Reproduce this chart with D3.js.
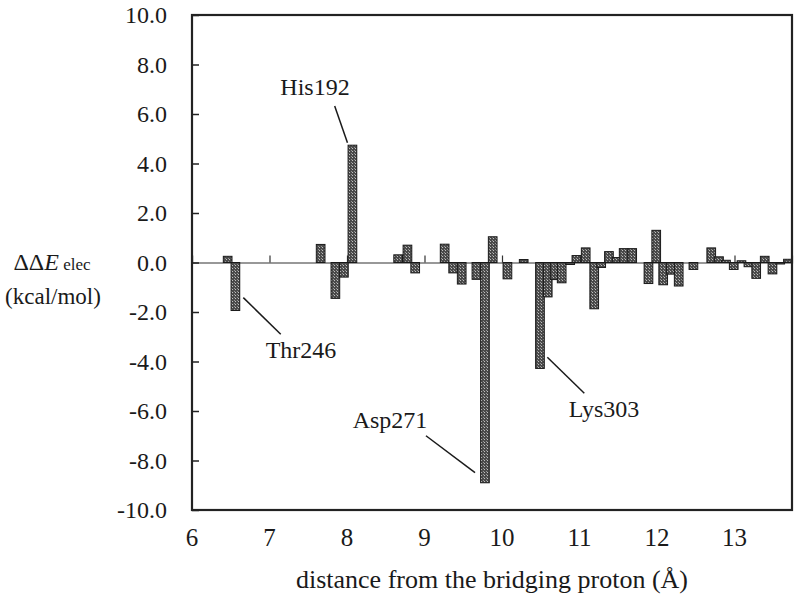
<!DOCTYPE html>
<html><head><meta charset="utf-8">
<script src="https://cdn.jsdelivr.net/npm/d3@7"></script>
<style>
body{margin:0;background:#fff}
#c text, #c tspan { font-family: "Liberation Serif", "Times New Roman", Tinos, FreeSerif !important; }
</style>
</head><body>
<svg id="c" width="800" height="600" style="display:block"></svg>
<script>
const distances = [6.46, 6.56, 7.66, 7.85, 7.96, 8.07, 8.66, 8.78, 8.88, 9.26, 9.37, 9.48, 9.67, 9.78, 9.88, 10.07, 10.28, 10.49, 10.59, 10.68, 10.77, 10.88, 10.96, 11.08, 11.19, 11.28, 11.38, 11.48, 11.57, 11.68, 11.89, 11.99, 12.08, 12.18, 12.28, 12.47, 12.70, 12.80, 12.89, 12.99, 13.09, 13.18, 13.28, 13.39, 13.49, 13.59, 13.69];
const values = [0.25, -1.94, 0.73, -1.45, -0.59, 4.74, 0.31, 0.70, -0.42, 0.74, -0.42, -0.87, -0.68, -8.90, 1.04, -0.66, 0.12, -4.28, -1.39, -0.69, -0.82, -0.08, 0.28, 0.59, -1.87, -0.20, 0.44, 0.20, 0.56, 0.56, -0.85, 1.30, -0.90, -0.47, -0.95, -0.28, 0.59, 0.23, 0.09, -0.28, 0.07, -0.17, -0.64, 0.25, -0.46, -0.06, 0.13];
const xTicks = [6, 7, 8, 9, 10, 11, 12, 13];
const yTicks = [-10, -8, -6, -4, -2, 0, 2, 4, 6, 8, 10];
const annLabels = ["His192", "Thr246", "Asp271", "Lys303"];
const annText = [[7.587, 6.77], [7.406, -3.86], [8.555, -6.67], [11.316, -6.24]];
const annLines = [[7.841, 6.32, 8.006, 4.84], [6.662, -1.42, 7.145, -2.90], [9.019, -7.00, 9.652, -8.49], [10.585, -3.83, 11.062, -5.28]];
const barWidth = 0.112;

const FONT = '"Liberation Serif", "Times New Roman", Tinos, FreeSerif';
const svg = d3.select("#c");
const L = 192, R = 792, T = 15, B = 510;
const x = d3.scaleLinear().domain([6, 13.742]).range([L, R]);
const y = d3.scaleLinear().domain([-10, 10]).range([B, T]);

const defs = svg.append("defs");
const p = defs.append("pattern").attr("id", "hatch").attr("patternUnits", "userSpaceOnUse").attr("width", 3).attr("height", 3);
p.append("rect").attr("width", 3).attr("height", 3).attr("fill", "#4a4a4a");
p.append("rect").attr("x", 1).attr("y", 1).attr("width", 1).attr("height", 1).attr("fill", "#c0c0c0");
p.append("rect").attr("x", 0).attr("y", 0).attr("width", 1).attr("height", 1).attr("fill", "#949494");

const xAxis = d3.axisTop(x).tickValues(xTicks).tickSize(7).tickFormat("");
const gx = svg.append("g").attr("transform", `translate(0,${y(0)})`).call(xAxis);
gx.select(".domain").attr("stroke", "#333").attr("stroke-width", 1.2);
gx.selectAll(".tick line").attr("stroke", "#333").attr("stroke-width", 1.2);
gx.selectAll(".tick text").remove();

const data = distances.map((d, i) => ({d, v: values[i]}));
svg.append("g").selectAll("rect").data(data).join("rect")
  .attr("x", d => x(d.d - barWidth / 2))
  .attr("width", x(6 + barWidth) - x(6))
  .attr("y", d => y(Math.max(0, d.v)))
  .attr("height", d => Math.abs(y(d.v) - y(0)))
  .attr("fill", "url(#hatch)")
  .attr("stroke", "#1a1a1a").attr("stroke-width", 1);

const yAxis = d3.axisRight(y).tickValues(yTicks).tickSize(7).tickFormat("");
const gy = svg.append("g").attr("transform", `translate(${L},0)`).call(yAxis);
gy.select(".domain").remove();
gy.selectAll(".tick line").attr("stroke", "#222").attr("stroke-width", 1.5);
gy.selectAll(".tick text").remove();

svg.append("rect").attr("x", x(6)).attr("y", y(10)).attr("width", x(13.742) - x(6)).attr("height", y(-10) - y(10))
  .attr("fill", "none").attr("stroke", "#222").attr("stroke-width", 2.2);

const txt = sel => sel.attr("font-family", FONT).style("font-family", FONT).attr("fill", "#1a1a1a");

svg.append("g").selectAll("text").data(yTicks).join("text").call(txt)
  .attr("x", 167).attr("y", d => y(d) + 8)
  .attr("text-anchor", "end").attr("font-size", 24)
  .text(d => d3.format(".1f")(d).replace("\u2212", "-"));

svg.append("g").selectAll("text").data(xTicks).join("text").call(txt)
  .attr("x", d => x(d)).attr("y", 546)
  .attr("text-anchor", "middle").attr("font-size", 25)
  .text(d => d);

svg.append("text").call(txt).attr("x", 492).attr("y", 588).attr("text-anchor", "middle").attr("font-size", 26)
  .text("distance from the bridging proton (Å)");
const yt = svg.append("text").call(txt).attr("x", 52).attr("y", 270).attr("text-anchor", "middle").attr("font-size", 24);
yt.append("tspan").text("ΔΔ");
yt.append("tspan").attr("font-style", "italic").text("E");
yt.append("tspan").attr("font-size", 17).text(" elec");
svg.append("text").call(txt).attr("x", 53).attr("y", 304).attr("text-anchor", "middle").attr("font-size", 23).text("(kcal/mol)");

svg.append("g").selectAll("line").data(annLines).join("line")
  .attr("x1", d => x(d[0])).attr("y1", d => y(d[1])).attr("x2", d => x(d[2])).attr("y2", d => y(d[3]))
  .attr("stroke", "#1a1a1a").attr("stroke-width", 1.5);
svg.append("g").selectAll("text").data(annLabels).join("text").call(txt)
  .attr("x", (d, i) => x(annText[i][0])).attr("y", (d, i) => y(annText[i][1]))
  .attr("text-anchor", "middle").attr("font-size", 24)
  .text(d => d);
</script>
</body></html>
